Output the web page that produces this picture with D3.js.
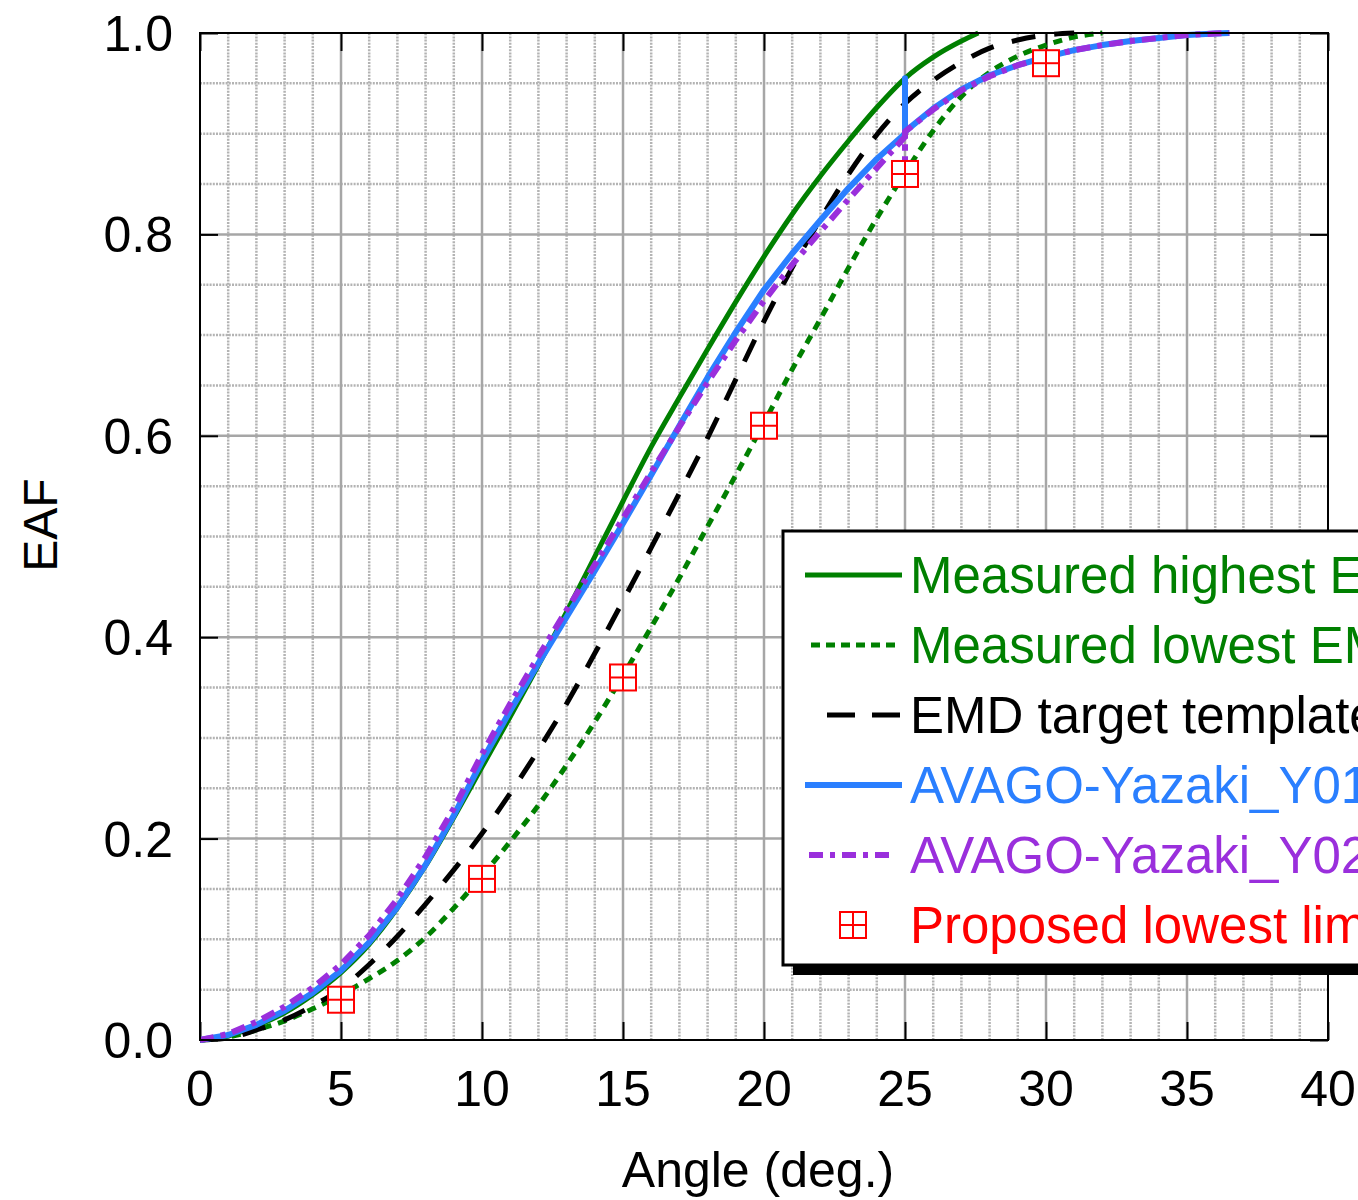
<!DOCTYPE html>
<html>
<head>
<meta charset="utf-8">
<script src="https://cdn.jsdelivr.net/npm/d3@7"></script>
<style>
  body { margin: 0; background: #fff; }
  svg { display: block; font-family: "Liberation Sans", Arial, sans-serif; }
</style>
</head>
<body>
<div id="chart"></div>
<script>
// angles (deg.) at which curves were sampled
const angles = [0, 1, 2, 3, 4, 5, 6, 7, 8, 9, 10, 11, 12, 13, 14, 15, 16, 17, 18, 19, 20, 21, 22, 23, 24];

const highestEAF = [0, 0.004, 0.014, 0.027, 0.045, 0.067, 0.095, 0.131, 0.173, 0.221, 0.271, 0.321, 0.372, 0.425, 0.48, 0.535, 0.589, 0.638, 0.686, 0.733, 0.778, 0.82, 0.858, 0.893, 0.926];
const highestTail = [[25, 0.955], [26, 0.976], [27, 0.992], [27.6, 1.0]];

const lowestEAF = [0, 0.003, 0.01, 0.019, 0.031, 0.045, 0.061, 0.079, 0.102, 0.131, 0.163, 0.197, 0.233, 0.273, 0.316, 0.362, 0.41, 0.459, 0.51, 0.561, 0.613, 0.666, 0.716, 0.767, 0.816];
const lowestTail = [[25, 0.861], [26, 0.903], [27, 0.937], [28, 0.961], [29, 0.977], [30, 0.988], [31, 0.996], [32, 1.0]];

const targetEAF = [0, 0.002, 0.01, 0.02, 0.034, 0.051, 0.075, 0.103, 0.135, 0.169, 0.205, 0.245, 0.288, 0.334, 0.384, 0.436, 0.489, 0.543, 0.598, 0.656, 0.714, 0.767, 0.815, 0.86, 0.899];
const targetTail = [[25, 0.93], [26, 0.953], [27, 0.971], [28, 0.985], [29, 0.993], [30, 0.998], [31, 1.0]];

const y01EAF = [0, 0.005, 0.015, 0.029, 0.047, 0.069, 0.097, 0.132, 0.174, 0.223, 0.277, 0.327, 0.374, 0.42, 0.466, 0.513, 0.561, 0.61, 0.658, 0.703, 0.745, 0.781, 0.814, 0.846, 0.875];
const y01Tail = [[25, 0.9], [25, 0.955], [25, 0.902], [26, 0.925], [27, 0.944], [28, 0.958], [29, 0.968], [30, 0.976], [31, 0.983], [32, 0.988], [33, 0.992], [34, 0.995], [35, 0.998], [36, 0.9995], [36.5, 1.0]];

const y02EAF = [0, 0.006, 0.018, 0.033, 0.052, 0.075, 0.104, 0.14, 0.182, 0.23, 0.284, 0.334, 0.381, 0.427, 0.472, 0.518, 0.564, 0.609, 0.653, 0.695, 0.734, 0.77, 0.803, 0.835, 0.866];
const y02Tail = [[25, 0.897], [25, 0.87], [25, 0.902], [26, 0.924], [27, 0.943], [28, 0.957], [29, 0.968], [30, 0.976], [31, 0.983], [32, 0.988], [33, 0.992], [34, 0.995], [35, 0.998], [36, 0.9995], [36.5, 1.0]];

// proposed lowest limit points
const limitAngles = [5, 10, 15, 20, 25, 30];
const limitEAF = [0.04, 0.16, 0.36, 0.61, 0.86, 0.97];

const xTicks = [0, 5, 10, 15, 20, 25, 30, 35, 40];
const yTicks = [0, 0.2, 0.4, 0.6, 0.8, 1.0];

const legendLabels = ["Measured highest EMD", "Measured lowest EMD", "EMD target template", "AVAGO-Yazaki_Y01", "AVAGO-Yazaki_Y02", "Proposed lowest limit"];

function join(xs, ys, tail) {
	return xs.map((a, i) => [a, ys[i]]).concat(tail);
}

const series = [
	{ data: join(angles, lowestEAF, lowestTail), color: "#008000", width: 5, dash: "9,7" },
	{ data: join(angles, highestEAF, highestTail), color: "#008000", width: 5, dash: null },
	{ data: join(angles, targetEAF, targetTail), color: "#000000", width: 5, dash: "24,19" },
	{ data: join(angles, y01EAF, y01Tail), color: "#2a7fff", width: 6, dash: null },
	{ data: join(angles, y02EAF, y02Tail), color: "#9a2fdc", width: 6, dash: "14,7,5,7" },
];

const width = 1358;
const height = 1200;
const margins = { left: 200, right: 30, top: 33, bottom: 160 };

const svg = d3
	.select("#chart")
	.append("svg")
	.attr("width", width)
	.attr("height", height);

const x = d3.scaleLinear().domain([0, 40]).range([margins.left, width - margins.right]);
const y = d3.scaleLinear().domain([0, 1]).range([height - margins.bottom, margins.top]);

const plotW = x(40) - x(0);
const plotH = y(0) - y(1);

// grid
const grid = svg.append("g").attr("class", "grid");
const xMinor = d3.range(1, 40).filter((d) => d % 5 !== 0);
const yMinor = d3.range(1, 20).map((d) => d / 20).filter((d, i) => (i + 1) % 4 !== 0);

grid.selectAll(".vminor")
	.data(xMinor)
	.join("line")
	.attr("x1", (d) => x(d)).attr("x2", (d) => x(d))
	.attr("y1", y(0)).attr("y2", y(1))
	.attr("stroke", "#b3b3b3").attr("stroke-width", 2.5).attr("stroke-dasharray", "2,1.2");

grid.selectAll(".hminor")
	.data(yMinor)
	.join("line")
	.attr("x1", x(0)).attr("x2", x(40))
	.attr("y1", (d) => y(d)).attr("y2", (d) => y(d))
	.attr("stroke", "#b3b3b3").attr("stroke-width", 2.5).attr("stroke-dasharray", "2,1.2");

grid.selectAll(".vmajor")
	.data(xTicks.slice(1, -1))
	.join("line")
	.attr("x1", (d) => x(d)).attr("x2", (d) => x(d))
	.attr("y1", y(0)).attr("y2", y(1))
	.attr("stroke", "#a6a6a6").attr("stroke-width", 2.5);

grid.selectAll(".hmajor")
	.data(yTicks.slice(1, -1))
	.join("line")
	.attr("x1", x(0)).attr("x2", x(40))
	.attr("y1", (d) => y(d)).attr("y2", (d) => y(d))
	.attr("stroke", "#a6a6a6").attr("stroke-width", 2.5);

// inner tick marks
const axes = svg.append("g").attr("class", "axis-group");
axes.append("g")
	.attr("transform", `translate(0, ${y(0)})`)
	.call(d3.axisBottom(x).tickValues(xTicks).tickSize(-18).tickFormat(""));
axes.append("g")
	.attr("transform", `translate(0, ${y(1)})`)
	.call(d3.axisTop(x).tickValues(xTicks).tickSize(-18).tickFormat(""));
axes.append("g")
	.attr("transform", `translate(${x(0)}, 0)`)
	.call(d3.axisLeft(y).tickValues(yTicks).tickSize(-18).tickFormat(""));
axes.append("g")
	.attr("transform", `translate(${x(40)}, 0)`)
	.call(d3.axisRight(y).tickValues(yTicks).tickSize(-18).tickFormat(""));
axes.selectAll(".domain").remove();
axes.selectAll(".tick line").attr("stroke", "#000").attr("stroke-width", 2);

// tick labels
const labels = svg.append("g").attr("class", "tick-labels").attr("font-size", 50).attr("fill", "#000");
labels.selectAll(".xl")
	.data(xTicks)
	.join("text")
	.attr("x", (d) => x(d))
	.attr("y", y(0) + 66)
	.attr("text-anchor", "middle")
	.text((d) => d);
labels.selectAll(".yl")
	.data(yTicks)
	.join("text")
	.attr("x", x(0) - 27)
	.attr("y", (d) => y(d) + 18)
	.attr("text-anchor", "end")
	.text((d) => d.toFixed(1));

svg.append("text")
	.attr("x", (x(0) + x(40)) / 2 - 6)
	.attr("y", 1187)
	.attr("text-anchor", "middle")
	.attr("font-size", 50)
	.text("Angle (deg.)");

svg.append("text")
	.attr("transform", `translate(57, 525) rotate(-90)`)
	.attr("text-anchor", "middle")
	.attr("font-size", 48)
	.text("EAF");

// curves
const line = d3.line().x((d) => x(d[0])).y((d) => y(d[1])).curve(d3.curveMonotoneX);
const lineRaw = d3.line().x((d) => x(d[0])).y((d) => y(d[1]));
const curves = svg.append("g").attr("class", "curves");
series.forEach((s) => {
	const hasSpike = s.data.some((p, i) => i > 0 && p[0] === s.data[i - 1][0]);
	curves.append("path")
		.datum(s.data)
		.attr("d", hasSpike ? lineRaw : line)
		.attr("fill", "none")
		.attr("stroke", s.color)
		.attr("stroke-width", s.width)
		.attr("stroke-dasharray", s.dash)
		.attr("stroke-linejoin", "round");
});

// limit markers
function marker(g, cx, cy) {
	const h = 13;
	g.append("rect")
		.attr("x", cx - h).attr("y", cy - h)
		.attr("width", 2 * h).attr("height", 2 * h)
		.attr("fill", "#fff").attr("stroke", "#ff0000").attr("stroke-width", 2);
	g.append("line").attr("x1", cx - h).attr("x2", cx + h).attr("y1", cy).attr("y2", cy)
		.attr("stroke", "#ff0000").attr("stroke-width", 2);
	g.append("line").attr("x1", cx).attr("x2", cx).attr("y1", cy - h).attr("y2", cy + h)
		.attr("stroke", "#ff0000").attr("stroke-width", 2);
}
const markers = svg.append("g").attr("class", "markers");
limitAngles.forEach((a, i) => marker(markers, x(a), y(limitEAF[i])));

// frame
svg.append("rect")
	.attr("x", x(0)).attr("y", y(1))
	.attr("width", plotW).attr("height", plotH)
	.attr("fill", "none").attr("stroke", "#000").attr("stroke-width", 2);

// legend
const legend = svg.append("g").attr("class", "legend");
const lx = 783, ly = 531, lw = 700, lh = 434;
legend.append("rect")
	.attr("x", lx + 10).attr("y", ly + 10)
	.attr("width", lw).attr("height", lh)
	.attr("fill", "#000");
legend.append("rect")
	.attr("x", lx).attr("y", ly)
	.attr("width", lw).attr("height", lh)
	.attr("fill", "#fff").attr("stroke", "#000").attr("stroke-width", 3);

const legendColors = ["#008000", "#008000", "#000000", "#2a7fff", "#9a2fdc", "#ff0000"];
const legendSamples = [
	{ x1: 805, x2: 902, dash: null, width: 5 },
	{ x1: 811, x2: 898, dash: "9,6", width: 5 },
	{ x1: 827, x2: 900, dash: "28,17", width: 5 },
	{ x1: 805, x2: 902, dash: null, width: 6 },
	{ x1: 809, x2: 890, dash: "14,7,5,7", width: 6 },
];
legendLabels.forEach((label, i) => {
	const ry = 575 + i * 70;
	if (i < 5) {
		const s = legendSamples[i];
		legend.append("line")
			.attr("x1", s.x1).attr("x2", s.x2).attr("y1", ry).attr("y2", ry)
			.attr("stroke", legendColors[i]).attr("stroke-width", s.width)
			.attr("stroke-dasharray", s.dash);
	} else {
		marker(legend, 853, ry);
	}
	legend.append("text")
		.attr("x", 910).attr("y", ry + 18)
		.attr("font-size", 51)
		.attr("fill", legendColors[i])
		.text(label);
});
</script>
</body>
</html>
